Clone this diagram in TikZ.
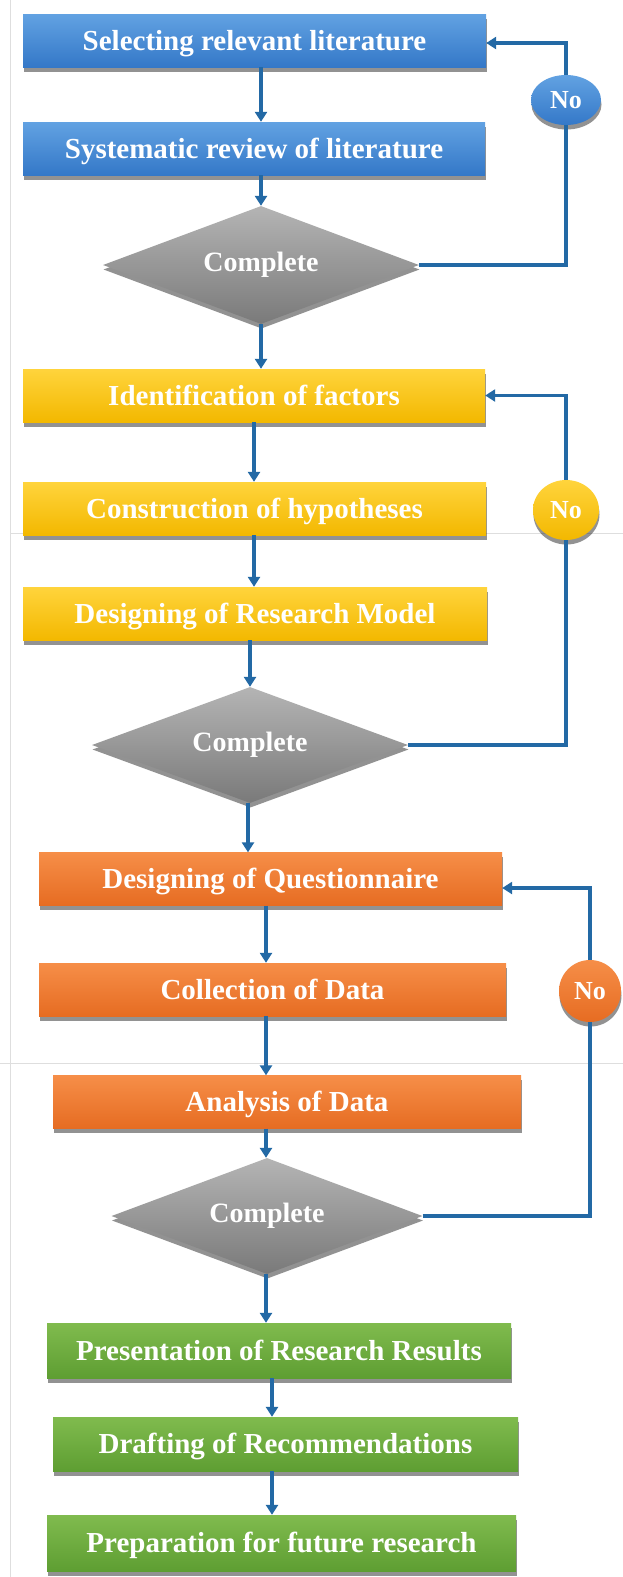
\documentclass[tikz,border=0pt]{standalone}
\usepackage{fontspec}
\setmainfont{Liberation Serif}
\usetikzlibrary{shapes.geometric,arrows.meta,shadows}

\definecolor{linkblue}{RGB}{35,105,165}
\definecolor{blueT}{RGB}{98,162,226}
\definecolor{blueB}{RGB}{52,120,200}
\definecolor{yelT}{RGB}{255,212,60}
\definecolor{yelB}{RGB}{243,184,0}
\definecolor{orgT}{RGB}{246,142,72}
\definecolor{orgB}{RGB}{230,108,34}
\definecolor{grnT}{RGB}{128,187,78}
\definecolor{grnB}{RGB}{94,158,50}
\definecolor{gryT}{RGB}{180,180,180}
\definecolor{gryB}{RGB}{122,122,122}
\definecolor{rule}{RGB}{222,222,222}

\begin{document}
\begin{tikzpicture}[x=1pt,y=-1pt,
  txt/.style={text=white,font=\bfseries\fontsize{29}{31}\selectfont},
  shad/.style={drop shadow={shadow xshift=0.5pt,shadow yshift=-4.5pt,opacity=0.5,fill=black!85}},
  stepbox/.style={txt,shad,rectangle,inner sep=0pt,minimum height=53pt,
    text height=22pt,text depth=3pt},
  bluebox/.style={stepbox,top color=blueT,bottom color=blueB},
  yelbox/.style={stepbox,top color=yelT,bottom color=yelB},
  orgbox/.style={stepbox,top color=orgT,bottom color=orgB},
  grnbox/.style={stepbox,top color=grnT,bottom color=grnB},
  decision/.style={txt,shad,diamond,aspect=2.7,inner sep=0pt,
    font=\bfseries\fontsize{28}{30}\selectfont,
    top color=gryT,bottom color=gryB},
  nobubble/.style={txt,shad,ellipse,inner sep=0pt,
    font=\bfseries\fontsize{26}{28}\selectfont},
  conn/.style={draw=linkblue,line width=3.2pt},
  arr/.style={conn,-{Triangle[length=10pt,width=12pt]}}
]
\useasboundingbox (0,0) rectangle (623,1577);
\fill[white] (0,0) rectangle (623,1577);

% faint page rules
\draw[rule,line width=1pt] (10,0) -- (10,1577);
\draw[rule,line width=1pt] (10,533) -- (623,533);
\draw[rule,line width=1pt] (0,1063) -- (623,1063);

% arrow columns
\coordinate (col1) at (261,0);
\coordinate (col2) at (248,0);
\coordinate (col3) at (266,0);
\coordinate (col4) at (272,0);
\coordinate (col5) at (254,0);

% literature stage
\node[bluebox,minimum width=463pt] (b1) at (254.5,40.5) {Selecting relevant literature};
\node[bluebox,minimum width=462pt] (b2) at (254,148.5) {Systematic review of literature};
\node[decision,minimum width=316pt,minimum height=118pt] (d1) at (261,265) {Complete};
\node[nobubble,top color=blueT,bottom color=blueB,minimum width=70pt,minimum height=50pt] (no1) at (566,100) {No};

% model stage
\node[yelbox,minimum width=462pt] (b3) at (254,395.5) {Identification of factors};
\node[yelbox,minimum width=463pt] (b4) at (254.5,508.5) {Construction of hypotheses};
\node[yelbox,minimum width=464pt] (b5) at (255,613.5) {Designing of Research Model};
\node[decision,minimum width=316pt,minimum height=116pt] (d2) at (250,745) {Complete};
\node[nobubble,top color=yelT,bottom color=yelB,minimum width=66pt,minimum height=60pt] (no2) at (566,510) {No};

% data stage
\node[orgbox,minimum width=463pt] (b6) at (270.5,879) {Designing of Questionnaire};
\node[orgbox,minimum width=467pt] (b7) at (272.5,989.5) {Collection of Data};
\node[orgbox,minimum width=468pt] (b8) at (287,1102) {Analysis of Data};
\node[decision,minimum width=311pt,minimum height=116pt] (d3) at (267,1216) {Complete};
\node[nobubble,top color=orgT,bottom color=orgB,minimum width=62pt,minimum height=62pt] (no3) at (590,991) {No};

% results stage
\node[grnbox,minimum width=464pt,minimum height=55pt] (b9) at (279,1350.5) {Presentation of Research Results};
\node[grnbox,minimum width=465pt,minimum height=54pt] (b10) at (285.5,1444) {Drafting of Recommendations};
\node[grnbox,minimum width=469pt,minimum height=56pt] (b11) at (281.5,1543) {Preparation for future research};

% main flow
\draw[arr] (b1.south -| col1) -- (b2.north -| col1);
\draw[arr] (b2.south -| col1) -- (d1.north);
\draw[arr] (d1.south) -- (b3.north -| col1);
\draw[arr] (b3.south -| col5) -- (b4.north -| col5);
\draw[arr] (b4.south -| col5) -- (b5.north -| col5);
\draw[arr] (b5.south -| d2.north) -- (d2.north);
\draw[arr] (d2.south -| col2) -- (b6.north -| col2);
\draw[arr] (b6.south -| col3) -- (b7.north -| col3);
\draw[arr] (b7.south -| col3) -- (b8.north -| col3);
\draw[arr] (b8.south -| col3) -- (d3.north -| col3);
\draw[arr] (d3.south -| col3) -- (b9.north -| col3);
\draw[arr] (b9.south -| col4) -- (b10.north -| col4);
\draw[arr] (b10.south -| col4) -- (b11.north -| col4);

% "No" loops
\draw[conn] (d1.east) -| (no1.south);
\draw[arr] (no1.north) |- ([yshift=-2.5pt]b1.east);
\draw[conn] (d2.east) -| (no2.south);
\draw[arr] (no2.north) |- (b3.east);
\draw[conn] (d3.east) -| (no3.south);
\draw[arr] (no3.north) |- ([yshift=-9pt]b6.east);
\end{tikzpicture}
\end{document}
